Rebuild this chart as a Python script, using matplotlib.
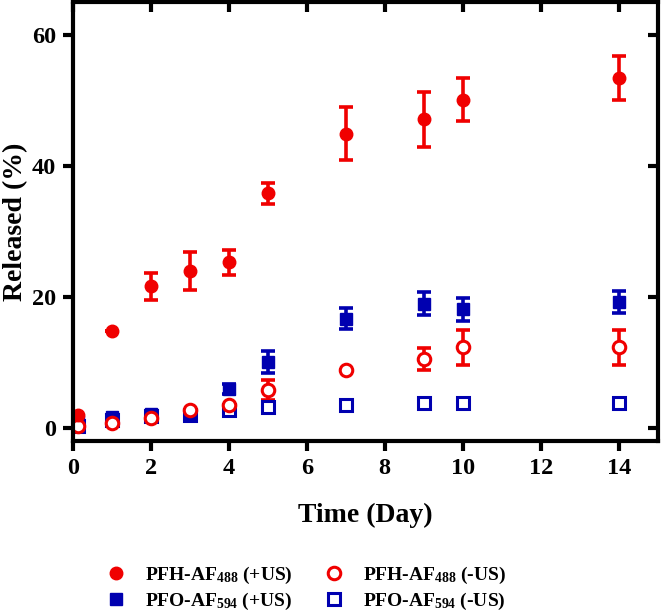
import numpy as np
import matplotlib
matplotlib.use('Agg')
import matplotlib.pyplot as plt

plt.rcParams['font.family'] = 'Liberation Serif'
plt.rcParams['font.weight'] = 'bold'
plt.rcParams['mathtext.fontset'] = 'custom'
plt.rcParams['mathtext.rm'] = 'Liberation Serif:bold'
plt.rcParams['mathtext.it'] = 'Liberation Serif:bold'
plt.rcParams['mathtext.bf'] = 'Liberation Serif:bold'

# release data (%)
days = [0.125, 1, 2, 3, 4, 5, 7, 9, 10, 14]
pfh_us = [2.0, 14.8, 21.6, 23.9, 25.3, 35.8, 44.9, 47.1, 50.1, 53.4]
pfh_us_err = [0, 0, 2.0, 2.9, 1.9, 1.6, 4.0, 4.2, 3.3, 3.4]
pfh_nous = [0.4, 0.8, 1.5, 2.7, 3.5, 5.8, 8.8, 10.5, 12.3, 12.3]
pfh_nous_err = [0, 0, 0, 0, 0, 1.5, 0, 1.7, 2.6, 2.6]
pfo_us = [1.0, 1.7, 2.1, 2.1, 6.0, 10.1, 16.7, 19.0, 18.1, 19.2]
pfo_us_err = [0, 0, 0, 0, 0.8, 1.7, 1.6, 1.8, 1.7, 1.7]
pfo_nous = [0.4, 1.3, 1.8, 2.0, 2.7, 3.2, 3.6, 3.8, 3.8, 3.8]
pfo_nous_err = [0] * 10

red = '#f00000'
blue = '#0000b0'

fig = plt.figure(figsize=(6.61, 6.12), dpi=100)
ax = fig.add_axes([0.110, 0.279, 0.885, 0.718])

eb = dict(fmt='none', elinewidth=2.6, capsize=5, capthick=2.6)
ax.errorbar(days, pfo_nous, yerr=pfo_nous_err, ecolor=blue, **eb)
ax.errorbar(days, pfo_us, yerr=pfo_us_err, ecolor=blue, **eb)
ax.errorbar(days, pfh_nous, yerr=pfh_nous_err, ecolor=red, **eb)
ax.errorbar(days, pfh_us, yerr=pfh_us_err, ecolor=red, **eb)

ms = 9
l4, = ax.plot(days, pfo_nous, 's', ms=ms, mfc='white', mec=blue, mew=2.2, ls='none',
              label=r'PFO-AF$_{594}$ (-US)')
l2, = ax.plot(days, pfo_us, 's', ms=ms, color=blue, ls='none',
              label=r'PFO-AF$_{594}$ (+US)')
l3, = ax.plot(days, pfh_nous, 'o', ms=ms, mfc='white', mec=red, mew=2.2, ls='none',
              label=r'PFH-AF$_{488}$ (-US)')
l1, = ax.plot(days, pfh_us, 'o', ms=ms, color=red, ls='none',
              label=r'PFH-AF$_{488}$ (+US)')

ax.set_xlim(0, 15)
ax.set_ylim(-2, 65)
ax.set_xticks([0, 2, 4, 6, 8, 10, 12, 14])
ax.set_yticks([0, 20, 40, 60])
for s in ax.spines.values():
    s.set_linewidth(3)
ax.tick_params(axis='both', width=3, length=7, labelsize=17.5, pad=5)
ax.tick_params(top=True, right=True)
# mirrored ticks on top/right point inward
for t in ax.xaxis.get_major_ticks():
    t.tick2line.set_marker(3)
for t in ax.yaxis.get_major_ticks():
    t.tick2line.set_marker(0)

ax.set_xlabel('Time (Day)', fontsize=20, fontweight='bold', labelpad=17)
ax.set_ylabel('Released (%)', fontsize=20, fontweight='bold', labelpad=3)

fig.legend(handles=[l1, l2, l3, l4], ncol=2, loc='lower left',
           bbox_to_anchor=(0.12, -0.028), frameon=False, fontsize=14,
           handletextpad=0.5, columnspacing=1.1, labelspacing=0.25)

fig.savefig('out.png', dpi=100)
